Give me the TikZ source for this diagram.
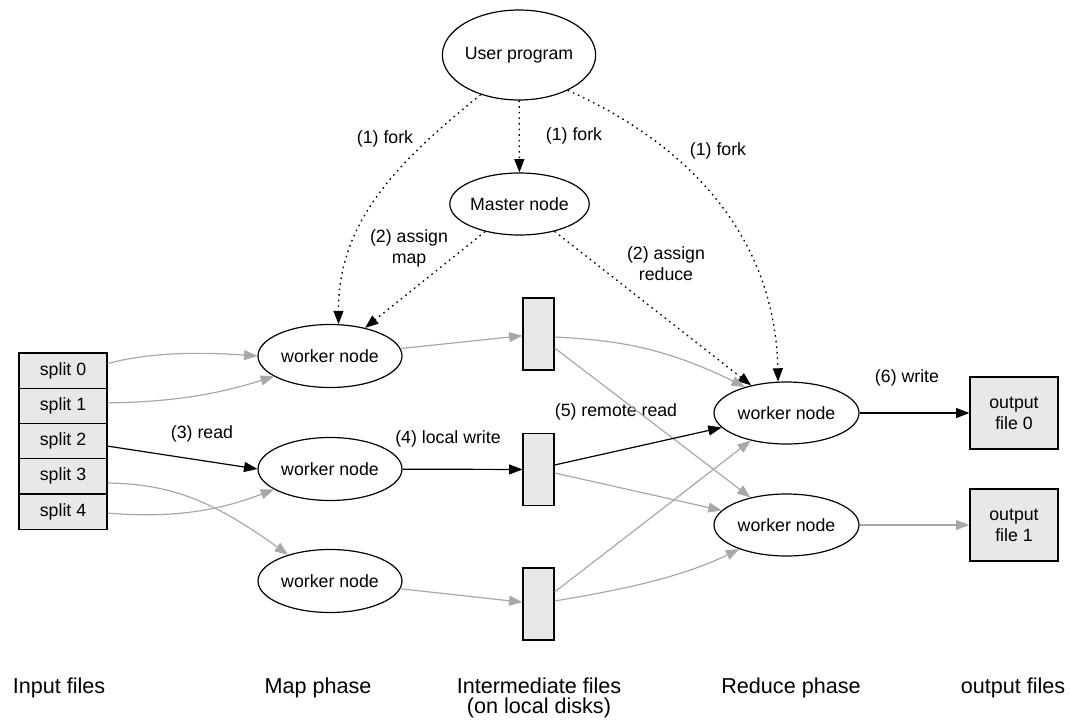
\documentclass[tikz,border=0pt]{standalone}
\usepackage{fontspec}
\setmainfont{Liberation Sans}
\usetikzlibrary{arrows.meta,shapes.geometric,calc}
\definecolor{edgegray}{RGB}{168,168,168}
\definecolor{boxfill}{RGB}{232,232,232}
\begin{document}
\begin{tikzpicture}[x=0.75pt,y=-0.75pt,
  txt/.style={font=\fontsize{13.3}{15.8}\selectfont},
  bigtxt/.style={font=\fontsize{16.2}{15.5}\selectfont, align=center},
  ell/.style={draw, ellipse, line width=0.9pt, inner sep=0pt, txt},
  wk/.style={ell, minimum width=108pt, minimum height=47.25pt},
  splitbox/.style={draw, fill=boxfill, line width=0.9pt, inner sep=0pt, minimum width=66pt, minimum height=26.4pt, txt},
  interbox/.style={draw, fill=boxfill, line width=0.9pt, inner sep=0pt, minimum width=23.25pt, minimum height=54pt},
  outbox/.style={draw, fill=boxfill, line width=0.9pt, inner sep=0pt, minimum width=66pt, minimum height=54pt, txt, align=center},
  lbl/.style={txt, align=center, inner sep=0pt},
  blk/.style={draw=black, line width=0.9pt, -{Triangle[length=10pt,width=7.5pt]}},
  gry/.style={draw=edgegray, line width=0.9pt, -{Triangle[length=10pt,width=7.5pt]}},
  dotarrow/.style={draw=black, line width=1pt, dash pattern=on 1.2pt off 3pt, -{Triangle[length=10pt,width=7.5pt]}}
]
\useasboundingbox (0,0) rectangle (1070,724);

% nodes
\node[ell, minimum width=112.5pt, minimum height=67.5pt] (user) at (519,55) {User program};
\node[ell, minimum width=101.25pt, minimum height=46.5pt] (master) at (519.5,204) {Master node};

\node[wk] (m1) at (330,356) {worker node};
\node[wk] (m2) at (330,469) {worker node};
\node[wk] (m3) at (330,581) {worker node};

\node[wk, minimum width=108.75pt, minimum height=46.5pt] (rw1) at (786.5,413) {worker node};
\node[wk, minimum width=108.75pt, minimum height=46.5pt] (rw2) at (786.5,525) {worker node};

\node[splitbox] (s0) at (63,370.6) {split 0};
\node[splitbox] (s1) at (63,405.9) {split 1};
\node[splitbox] (s2) at (63,441.1) {split 2};
\node[splitbox] (s3) at (63,476.4) {split 3};
\node[splitbox] (s4) at (63,511.6) {split 4};

\node[interbox] (i1) at (538.5,334) {};
\node[interbox] (i2) at (538.5,469.5) {};
\node[interbox] (i3) at (538.5,604) {};

\node[outbox] (o0) at (1014,413) {output\\file 0};
\node[outbox] (o1) at (1014,525) {output\\file 1};

% edge labels
\node[lbl] (lf1) at (385,139) {(1) fork};
\node[lbl] (lf2) at (574,136) {(1) fork};
\node[lbl] (lf3) at (718,151) {(1) fork};
\node[lbl] (la1) at (409,248) {(2) assign\\map};
\node[lbl] (la2) at (666,264) {(2) assign\\reduce};
\node[lbl] (lr) at (202,434) {(3) read};
\node[lbl] (lw) at (448,439) {(4) local write};
\node[lbl] (lrr) at (616,412) {(5) remote read};
\node[lbl] (lw6) at (907,378) {(6) write};

% bottom labels
\node[bigtxt] (b1) at (59,688) {Input files};
\node[bigtxt] (b2) at (318,688) {Map phase};
\node[bigtxt] (b3) at (539,698) {Intermediate files\\(on local disks)};
\node[bigtxt] (b4) at (791,688) {Reduce phase};
\node[bigtxt] (b5) at (1013,688) {output files};

% dotted control edges
\draw[dotarrow] (user) -- (master);
\draw[dotarrow] (user.226) .. controls (400,160) and (338,220) .. (m1.75);
\draw[dotarrow] (user.-36) .. controls (680,140) and (775,230) .. (rw1.105);
\draw[dotarrow] (master) -- (m1);
\draw[dotarrow] (master) -- (rw1);

% input to map
\draw[gry] ($(s0.east)+(0,-7)$) .. controls (150,352) and (200,352) .. (m1.west);
\draw[gry] ($(s1.east)+(0,-3)$) .. controls (170,402) and (215,395) .. (m1.200);
\draw[blk] ($(s2.east)+(0,5)$) -- (m2.west);
\draw[gry] ($(s3.east)+(0,6.6)$) .. controls (170,484) and (212,500) .. (m3.148);
\draw[gry] ($(s4.east)+(0,1.5)$) .. controls (170,518) and (215,512) .. (m2.200);

% map to intermediate
\draw[gry] (m1) -- (i1);
\draw[blk] (m2) -- (i2);
\draw[gry] (m3) -- (i3);

% intermediate to reduce
\draw[gry] ($(i1.east)+(0,3)$) .. controls (610,340) and (660,345) .. (rw1.148);
\draw[gry] ($(i1.east)+(0,14)$) -- (rw2);
\draw[blk] ($(i2.east)+(0,-4.5)$) -- (rw1);
\draw[gry] ($(i2.east)+(0,3.5)$) -- (rw2);
\draw[gry] ($(i3.east)+(0,-12)$) -- (rw1);
\draw[gry] ($(i3.east)+(0,-3)$) .. controls (620,590) and (680,578) .. (rw2.207);

% reduce to output
\draw[blk] (rw1) -- (o0);
\draw[gry] (rw2) -- (o1);
\end{tikzpicture}
\end{document}
